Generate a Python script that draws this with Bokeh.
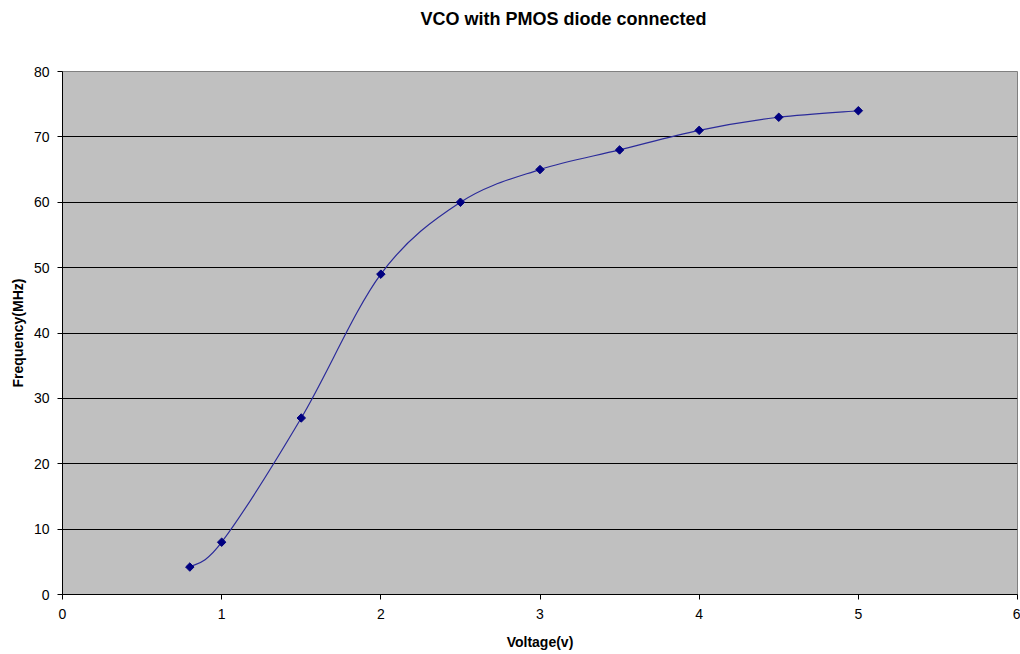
import math
from bokeh.plotting import figure
from bokeh.models import Range1d, FixedTicker, Title
from bokeh.embed import file_html
from bokeh.resources import INLINE

voltage = [0.8, 1.0, 1.5, 2.0, 2.5, 3.0, 3.5, 4.0, 4.5, 5.0]
frequency = [4.2, 8.0, 27.0, 49.0, 60.0, 65.0, 68.0, 71.0, 73.0, 74.0]
x_ticks = [0, 1, 2, 3, 4, 5, 6]
y_ticks = [0, 10, 20, 30, 40, 50, 60, 70, 80]
title_text = "VCO with PMOS diode connected"

FONT = "Liberation Sans"

p = figure(width=1020, height=654, output_backend="svg", toolbar_location=None,
           x_range=Range1d(0, 6), y_range=Range1d(0, 80),
           min_border_left=62, min_border_right=3, min_border_top=71, min_border_bottom=60)
p.title = None
p.border_fill_color = "white"
p.background_fill_color = "#C0C0C0"
p.outline_line_color = "#808080"

# spacer (blank) title next to the frame, then the real title further out
p.add_layout(Title(text=" ", text_font=FONT, text_font_size="18px", standoff=13), "above")
p.add_layout(Title(text=title_text, align="left", offset=358,
                   text_font=FONT, text_font_size="18px", text_font_style="bold",
                   text_color="black", vertical_align="top", standoff=12), "above")

for ax in (p.xaxis[0], p.yaxis[0]):
    ax.axis_line_color = "black"
    ax.major_tick_line_color = "black"
    ax.major_tick_out = 5
    ax.major_tick_in = 0
    ax.minor_tick_line_color = None
    ax.major_label_text_font = FONT
    ax.major_label_text_font_size = "14px"
    ax.major_label_text_color = "black"
    ax.axis_label_text_font = FONT
    ax.axis_label_text_font_size = "14px"
    ax.axis_label_text_font_style = "bold"
    ax.axis_label_text_color = "black"

p.xaxis.ticker = FixedTicker(ticks=x_ticks)
p.yaxis.ticker = FixedTicker(ticks=y_ticks)
p.xaxis.axis_label = "Voltage(v)"
p.yaxis.axis_label = "Frequency(MHz)"
p.xaxis.major_label_standoff = 9
p.yaxis.major_label_standoff = 8
p.xaxis.axis_label_standoff = 12
p.yaxis.axis_label_standoff = 5

p.xgrid.grid_line_color = None
p.ygrid.grid_line_color = "black"
p.ygrid.grid_line_width = 1

# Smoothed line (Catmull-Rom style Bezier through the data points)
n = len(voltage)
x0, y0, x1, y1, cx0, cy0, cx1, cy1 = [], [], [], [], [], [], [], []
for i in range(n - 1):
    pm = max(i - 1, 0)
    pp = min(i + 2, n - 1)
    x0.append(voltage[i]); y0.append(frequency[i])
    x1.append(voltage[i + 1]); y1.append(frequency[i + 1])
    cx0.append(voltage[i] + (voltage[i + 1] - voltage[pm]) / 6)
    cy0.append(frequency[i] + (frequency[i + 1] - frequency[pm]) / 6)
    cx1.append(voltage[i + 1] - (voltage[pp] - voltage[i]) / 6)
    cy1.append(frequency[i + 1] - (frequency[pp] - frequency[i]) / 6)
p.bezier(x0=x0, y0=y0, x1=x1, y1=y1, cx0=cx0, cy0=cy0, cx1=cx1, cy1=cy1,
         line_color="#2B2B9A", line_width=1.2)

p.scatter(voltage, frequency, marker="square", size=6, angle=math.pi / 4,
          fill_color="#000080", line_color="#000080")

open("out.html", "w").write(file_html(p, INLINE))
